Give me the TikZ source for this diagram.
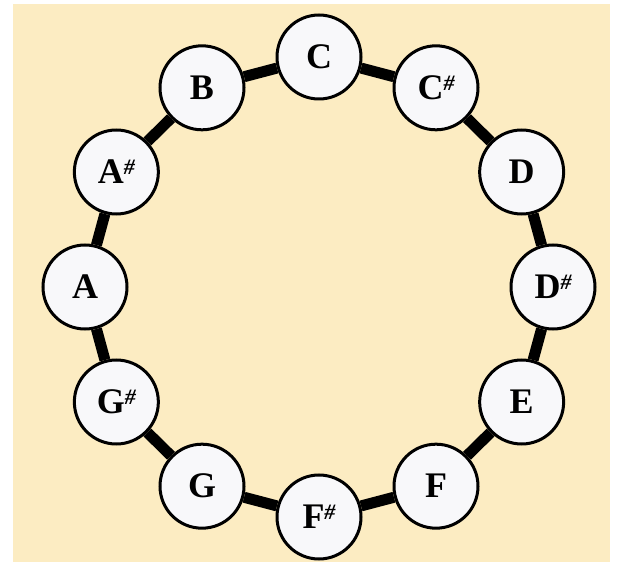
\documentclass[tikz,border=0pt]{standalone}
\usepackage{fontspec}
\setmainfont{Liberation Serif}
\usetikzlibrary{calc}
\definecolor{bgcream}{RGB}{252,236,194}
\definecolor{notefill}{RGB}{248,248,250}
\newcommand{\shp}{{\fontsize{22}{22}\selectfont\itshape\raisebox{9pt}{\#}}}
\pgfdeclarelayer{back}
\pgfsetlayers{back,main}

\begin{document}
\begin{tikzpicture}[x=1pt,y=1pt,
    note/.style={circle, draw=black, line width=3pt, fill=notefill,
      minimum size=84pt, inner sep=0pt,
      font=\fontsize{36}{36}\selectfont\bfseries},
    link/.style={line width=11pt, black}]
        % Fix the page size
        \useasboundingbox (0,0) rectangle (624,-569);
        % Centre of the ring
        \coordinate (ctr) at (319,-287);
        % Place the twelve notes
        \foreach \i/\ang/\lbl in {1/90/C, 2/60/C\shp, 3/30/D, 4/0/D\shp,
            5/-30/E, 6/-60/F, 7/-90/F\shp, 8/-120/G, 9/-150/G\shp,
            10/180/A, 11/150/A\shp, 12/120/B}
          \node[note] (n\i) at ($(ctr)+({234*cos(\ang)},{230*sin(\ang)})$) {\lbl};
        % Background and the links round the ring
        \begin{pgfonlayer}{back}
          \fill[bgcream] (13,-4) rectangle (610,-562);
          \foreach \i [remember=\i as \j (initially 12)] in {1,...,12}
            \draw[link] (n\j) -- (n\i);
        \end{pgfonlayer}
      \end{tikzpicture}
\end{document}
